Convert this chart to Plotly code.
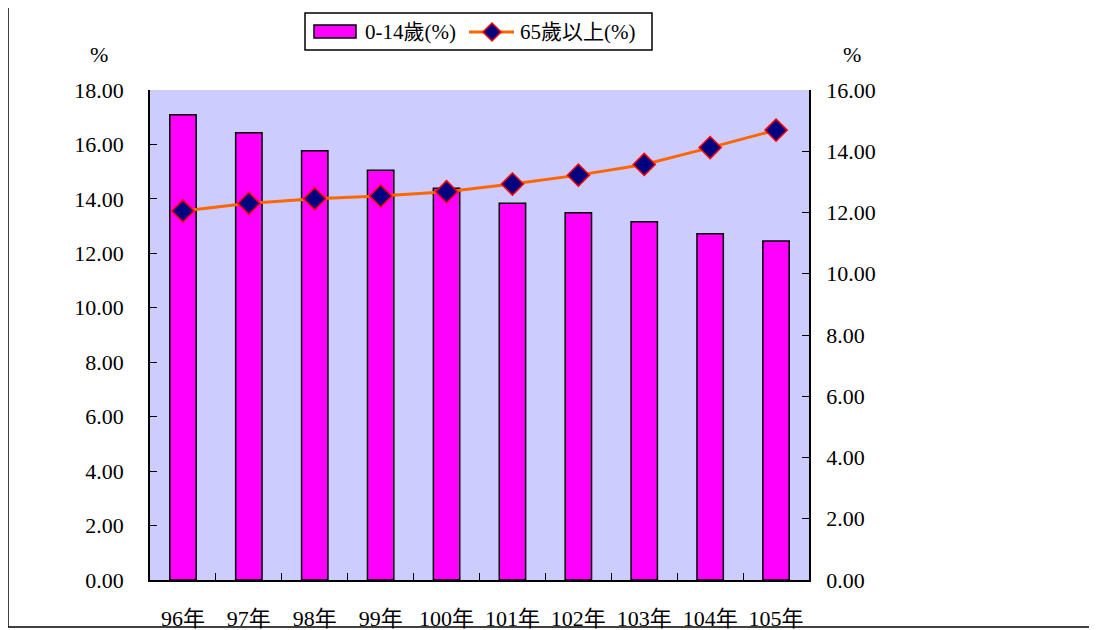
import plotly.graph_objects as go

years = ["96年", "97年", "98年", "99年", "100年", "101年", "102年", "103年", "104年", "105年"]
child_pct = [17.09, 16.43, 15.77, 15.05, 14.39, 13.84, 13.49, 13.16, 12.72, 12.45]
elderly_pct = [12.05, 12.30, 12.45, 12.54, 12.68, 12.93, 13.22, 13.57, 14.12, 14.69]
left_ticks = [0, 2, 4, 6, 8, 10, 12, 14, 16, 18]
right_ticks = [0, 2, 4, 6, 8, 10, 12, 14, 16]
series_names = ["0-14歲(%)", "65歲以上(%)"]

FONT = "Liberation Serif, Noto Sans CJK TC, serif"
BAR_COLOR = "#FF00FF"
LINE_COLOR = "#FF6600"
MK_COLOR = "#000080"
MK_LINE = "#FF0000"

fig = go.Figure()
fig.add_trace(go.Bar(
    x=years, y=child_pct, name=series_names[0],
    marker=dict(color=BAR_COLOR, line=dict(color="#000000", width=1.5)),
    width=0.4, yaxis="y",
))
fig.add_trace(go.Scatter(
    x=years, y=elderly_pct, name=series_names[1], mode="lines+markers",
    line=dict(color=LINE_COLOR, width=3),
    marker=dict(symbol="diamond", size=17, color=MK_COLOR,
                line=dict(color=MK_LINE, width=1.5)),
    yaxis="y2",
))

OFF = 8  # page body margin
W, H = 1097, 630
L, T = 150 - OFF, 90 - OFF
pw, ph = 659, 490
R = W - L - pw
B = H - T - ph

def px(x):
    return (x - OFF - L) / pw

def py(y):
    return (T + ph - (y - OFF)) / ph

fig.update_layout(
    width=W, height=H,
    margin=dict(l=L, r=R, t=T, b=B, autoexpand=False),
    paper_bgcolor="white", plot_bgcolor="#CCCCFF",
    font=dict(family=FONT, size=22, color="#000000"),
    showlegend=False,
    xaxis=dict(
        type="category", range=[-0.5, len(years) - 0.5], showgrid=False,
        showline=True, linecolor="#000000", linewidth=1.5,
        ticks="inside", ticklen=7, tickcolor="#000000", tickson="boundaries",
        tickangle=0, ticklabelstandoff=18, tickfont=dict(family=FONT, size=22),
        automargin=False,
    ),
    yaxis=dict(
        range=[0, 18], tickvals=left_ticks, tickformat=".2f", showgrid=False,
        showline=True, linecolor="#000000", linewidth=1.5, ticks="inside", ticklen=7,
        tickcolor="#000000", ticklabelstandoff=20, zeroline=False,
        tickfont=dict(family=FONT, size=22), automargin=False,
    ),
    yaxis2=dict(
        range=[0, 16], tickvals=right_ticks, tickformat=".2f", overlaying="y", side="right",
        showgrid=False, showline=True, linecolor="#000000", linewidth=1.5, ticks="inside",
        ticklen=7, tickcolor="#000000", ticklabelstandoff=11, zeroline=False,
        tickfont=dict(family=FONT, size=22), automargin=False,
    ),
    bargap=0.6,
)

for xp in (99, 852):
    fig.add_annotation(x=px(xp), y=py(54), xref="paper", yref="paper", text="%",
                       xanchor="center", yanchor="middle", showarrow=False,
                       font=dict(family=FONT, size=22))

def pline(x0, y0, x1, y1, color="#000000", width=1.5):
    fig.add_shape(type="line", xref="paper", yref="paper",
                  x0=px(x0), y0=py(y0), x1=px(x1), y1=py(y1),
                  line=dict(color=color, width=width))

# outer frame
pline(8, 7, 1097, 7)
pline(8, 7, 8, 627)
pline(8, 627, 1097, 627)

# legend box
fig.add_shape(type="rect", xref="paper", yref="paper",
              x0=px(305), y0=py(13), x1=px(652), y1=py(50),
              line=dict(color="#000000", width=1.5), fillcolor="white")
fig.add_shape(type="rect", xref="paper", yref="paper",
              x0=px(314), y0=py(25), x1=px(356), y1=py(38),
              line=dict(color="#000000", width=1.5), fillcolor=BAR_COLOR)
fig.add_annotation(x=px(363), y=py(32), xref="paper", yref="paper", text=series_names[0],
                   xanchor="left", yanchor="middle", showarrow=False,
                   font=dict(family=FONT, size=21))
pline(469, 32, 514, 32, color=LINE_COLOR, width=3)
cx, cy, d = 492, 32, 9
path = "M {} {} L {} {} L {} {} L {} {} Z".format(
    px(cx), py(cy - d), px(cx + d), py(cy), px(cx), py(cy + d), px(cx - d), py(cy))
fig.add_shape(type="path", xref="paper", yref="paper", path=path,
              fillcolor=MK_COLOR, line=dict(color=MK_LINE, width=1.5))
fig.add_annotation(x=px(518), y=py(32), xref="paper", yref="paper", text=series_names[1],
                   xanchor="left", yanchor="middle", showarrow=False,
                   font=dict(family=FONT, size=21))

fig.write_html("out.html")
